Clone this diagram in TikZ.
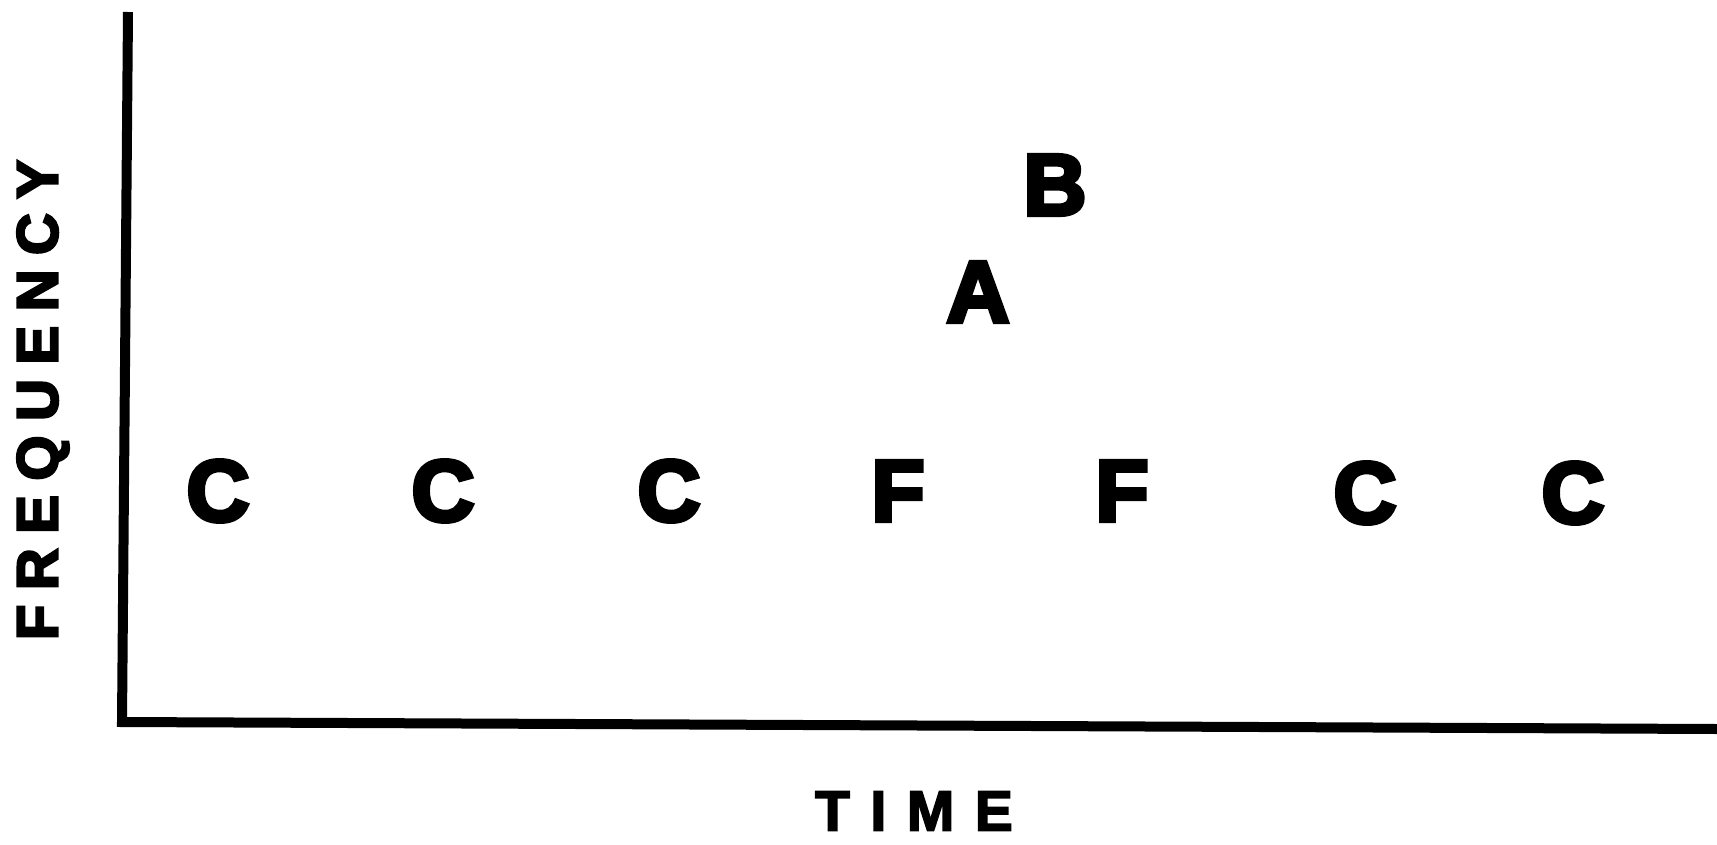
\documentclass[tikz,border=0pt]{standalone}
\usepackage{fontspec}
\setmainfont{Liberation Sans}
\newfontfamily\bigletters{Liberation Sans Bold}[FakeBold=5]
\newfontfamily\freqfont{Liberation Sans Bold}[LetterSpace=25,FakeBold=4]
\newfontfamily\timefont{Liberation Sans Bold}[LetterSpace=36,FakeBold=3]
\begin{document}
\begin{tikzpicture}[x=1pt,y=-1pt,
  axisline/.style={line width=10pt,line join=miter},
  letter/.style={inner sep=0pt,font=\bigletters\fontsize{87}{87}\selectfont},
  axislabel/.style={inner sep=0pt}]
\useasboundingbox (0,0) rectangle (1717,844);
\coordinate (top) at (128,12);
\coordinate (corner) at (122,722);
\coordinate (right) at (1717,729);
\draw[axisline] (top) -- (corner) -- (right);
\node[letter] (c1) at (218,491) {C};
\node[letter] (c2) at (443,491) {C};
\node[letter] (c3) at (669,491) {C};
\node[letter] (f1) at (898,491) {F};
\node[letter] (f2) at (1122,491) {F};
\node[letter] (c4) at (1365,493) {C};
\node[letter] (c5) at (1573,493) {C};
\node[letter] (a) at (978,292) {A};
\node[letter] (b) at (1055,185) {B};
\node[axislabel,font=\timefont\fontsize{57}{57}\selectfont] (time) at (914,811) {TIME};
\node[axislabel,rotate=90,font=\freqfont\fontsize{58}{58}\selectfont] (freq) at (43,400) {FREQUENCY};
\end{tikzpicture}
\end{document}
